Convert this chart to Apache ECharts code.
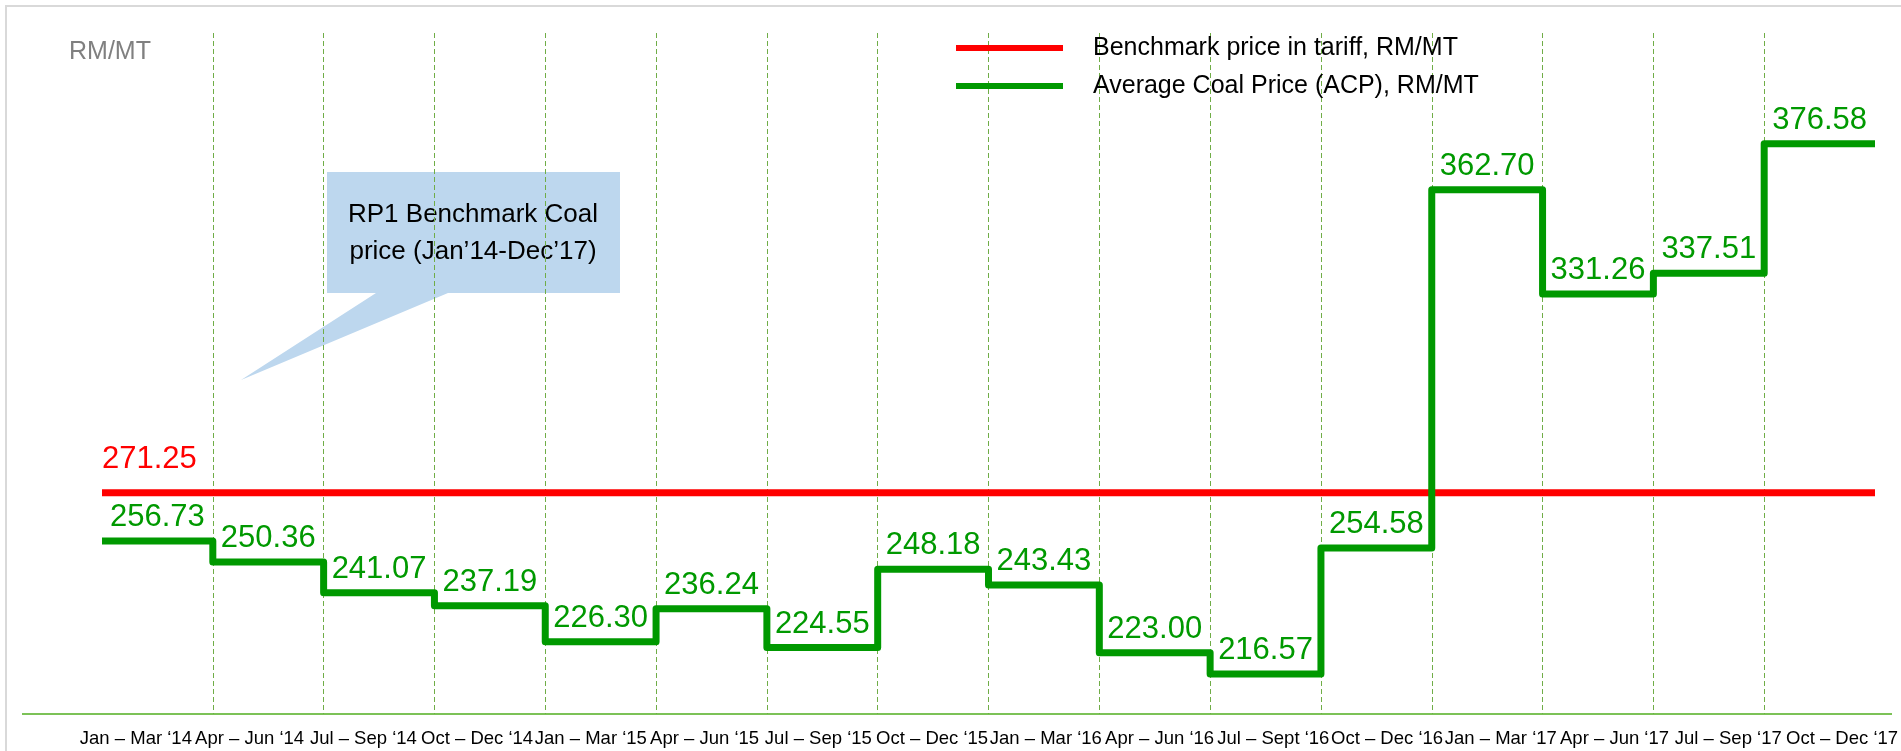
<!DOCTYPE html>
<html>
<head>
<meta charset="utf-8">
<title>Average Coal Price</title>
<script src="https://cdn.jsdelivr.net/npm/echarts@6/dist/echarts.min.js"></script>
<style>
  html, body { margin: 0; padding: 0; background: #fff; }
  #main { width: 1901px; height: 751px; }
</style>
</head>
<body>
<div id="main"></div>
<script>
var quarters = [
  'Jan – Mar ‘14', 'Apr – Jun ‘14', 'Jul – Sep ‘14', 'Oct – Dec ‘14',
  'Jan – Mar ‘15', 'Apr – Jun ‘15', 'Jul – Sep ‘15', 'Oct – Dec ‘15',
  'Jan – Mar ‘16', 'Apr – Jun ‘16', 'Jul – Sept ‘16', 'Oct – Dec ‘16',
  'Jan – Mar ‘17', 'Apr – Jun ‘17', 'Jul – Sep ‘17', 'Oct – Dec ‘17'
];
var acp = [256.73, 250.36, 241.07, 237.19, 226.30, 236.24, 224.55, 248.18,
           243.43, 223.00, 216.57, 254.58, 362.70, 331.26, 337.51, 376.58];
var benchmark = [271.25, 271.25, 271.25, 271.25, 271.25, 271.25, 271.25, 271.25,
                 271.25, 271.25, 271.25, 271.25, 271.25, 271.25, 271.25, 271.25];

var FONT = '"Liberation Sans", Arial, sans-serif';

// each quarter is a flat step from i to i+1, so add a closing point at the end
function steps(values) {
  var pts = values.map(function (v, i) { return [i, v]; });
  pts.push({ value: [values.length, values[values.length - 1]], label: { show: false } });
  return pts;
}

// benchmark only gets its label on the first point
var benchPts = steps(benchmark).map(function (p, i) {
  if (i === 0) return p;
  return { value: Array.isArray(p) ? p : p.value, label: { show: false } };
});

var chart = echarts.init(document.getElementById('main'));

var option = {
  animation: false,
  title: {
    text: 'RM/MT',
    left: 69,
    top: 40,
    padding: 0,
    textStyle: { color: '#808080', fontSize: 25, fontWeight: 'normal', fontFamily: FONT }
  },
  legend: {
    orient: 'vertical',
    left: 951,
    top: 24,
    icon: 'rect',
    itemWidth: 107,
    itemHeight: 6,
    itemGap: 0,
    data: ['Benchmark price in tariff, RM/MT', 'Average Coal Price (ACP), RM/MT'],
    textStyle: { color: '#000', fontSize: 25, fontFamily: FONT, lineHeight: 38, padding: [0, 0, 0, 25] }
  },
  grid: [
    { left: 102, right: 26, top: 33, bottom: 37 },
    { left: 79, right: 0, top: 700, bottom: 37 }
  ],
  xAxis: [
    {
      type: 'value',
      gridIndex: 0,
      min: 0,
      max: quarters.length,
      interval: 1,
      axisLine: { show: false },
      axisTick: { show: false },
      axisLabel: { show: false },
      splitLine: {
        show: true,
        showMinLine: false,
        showMaxLine: false,
        lineStyle: { color: '#70AD47', width: 1, type: [5, 3] }
      }
    },
    {
      type: 'category',
      gridIndex: 1,
      data: quarters,
      axisLine: { show: false },
      axisTick: { show: false },
      splitLine: { show: false },
      axisLabel: { interval: 0, margin: 15, color: '#000', fontSize: 18.5, fontFamily: FONT }
    }
  ],
  yAxis: [
    { type: 'value', gridIndex: 0, min: 204.5, max: 410, show: false, splitLine: { show: false } },
    { type: 'value', gridIndex: 1, show: false }
  ],
  graphic: [
    {   // outer frame
      type: 'rect', silent: true, z: -1,
      shape: { x: 6, y: 6, width: 1920, height: 780 },
      style: { fill: null, stroke: '#D9D9D9', lineWidth: 2 }
    },
    {   // x axis line
      type: 'line', silent: true,
      shape: { x1: 22, y1: 714, x2: 1892, y2: 714 },
      style: { stroke: '#7CC257', lineWidth: 2 }
    },
    {   // callout
      type: 'polygon', silent: true,
      shape: { points: [[327, 172], [620, 172], [620, 293], [448, 293], [241, 380], [376, 293], [327, 293]] },
      style: { fill: '#BDD7EE' }
    },
    {
      type: 'text', silent: true,
      x: 473, y: 233,
      style: {
        text: 'RP1 Benchmark Coal\nprice (Jan’14-Dec’17)',
        fill: '#000', fontSize: 26, fontFamily: FONT, lineHeight: 37,
        align: 'center', verticalAlign: 'middle'
      }
    }
  ],
  series: [
    {
      name: 'Benchmark price in tariff, RM/MT',
      type: 'line',
      xAxisIndex: 0, yAxisIndex: 0,
      step: 'end',
      data: benchPts,
      symbol: 'circle', symbolSize: 0,
      color: '#FF0000',
      lineStyle: { color: '#FF0000', width: 7 },
      label: {
        show: true, position: 'top', align: 'left', distance: 18,
        color: '#FF0000', fontSize: 31, fontFamily: FONT,
        formatter: function (p) { return p.value[1].toFixed(2); }
      }
    },
    {
      name: 'Average Coal Price (ACP), RM/MT',
      type: 'line',
      xAxisIndex: 0, yAxisIndex: 0,
      step: 'end',
      data: steps(acp),
      symbol: 'circle', symbolSize: 0,
      color: '#009900',
      lineStyle: { color: '#009900', width: 7, join: 'round' },
      label: {
        show: true, position: 'top', align: 'left', distance: 8, offset: [8, 0],
        color: '#009900', fontSize: 31, fontFamily: FONT,
        formatter: function (p) { return p.value[1].toFixed(2); }
      }
    }
  ]
};

chart.setOption(option);
</script>
</body>
</html>
